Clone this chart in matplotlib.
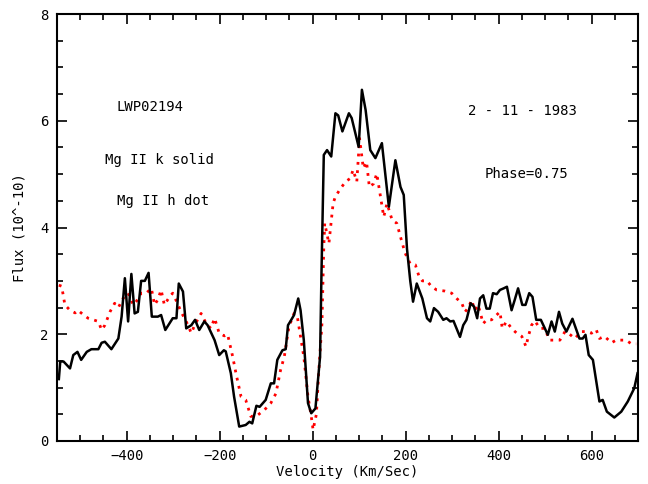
import numpy as np
import matplotlib
matplotlib.use('Agg')
import matplotlib.pyplot as plt
from matplotlib.ticker import MultipleLocator

# Mg II k (solid line)
vel_k = [-546, -543, -536, -522, -515, -506, -498, -486, -476, -461, -454, -447, -433, -418,
         -411, -404, -397, -390, -383, -376, -369, -361, -353, -346, -333, -326, -317, -301,
         -293, -288, -279, -272, -261, -253, -244, -233, -226, -211, -201, -191, -187, -176,
         -169, -158, -144, -136, -130, -121, -114, -101, -90, -83, -76, -65, -58, -53, -48,
         -40, -31, -26, -19, -10, -3, 6, 16, 19, 24, 31, 40, 49, 55, 64, 78, 84, 99, 106,
         114, 124, 135, 149, 164, 178, 189, 196, 203, 210, 216, 224, 236, 246, 253, 261, 270,
         281, 288, 296, 303, 317, 324, 331, 340, 347, 354, 360, 367, 374, 381, 388, 396, 403,
         411, 418, 428, 435, 442, 451, 458, 466, 473, 481, 491, 506, 514, 521, 530, 537, 546,
         559, 574, 581, 587, 594, 603, 617, 624, 633, 649, 664, 678, 692, 699]
flux_k = [1.16, 1.49, 1.49, 1.36, 1.61, 1.67, 1.52, 1.67, 1.72, 1.72, 1.84, 1.86, 1.72, 1.92,
          2.33, 3.05, 2.24, 3.13, 2.39, 2.42, 3.00, 3.00, 3.15, 2.33, 2.33, 2.36, 2.08, 2.30,
          2.30, 2.95, 2.80, 2.11, 2.17, 2.27, 2.08, 2.24, 2.17, 1.89, 1.61, 1.70, 1.68, 1.27,
          0.83, 0.27, 0.30, 0.36, 0.33, 0.66, 0.64, 0.77, 1.08, 1.08, 1.52, 1.70, 1.72, 2.17, 2.24,
          2.36, 2.67, 2.45, 1.89, 0.71, 0.52, 0.61, 1.58, 3.14, 5.36, 5.45, 5.33, 6.14, 6.10, 5.80,
          6.14, 6.05, 5.51, 6.58, 6.20, 5.45, 5.30, 5.58, 4.39, 5.26, 4.76, 4.61, 3.60, 3.00,
          2.61, 2.95, 2.67, 2.30, 2.24, 2.49, 2.42, 2.27, 2.30, 2.24, 2.25, 1.95, 2.17, 2.27,
          2.58, 2.52, 2.30, 2.67, 2.73, 2.48, 2.48, 2.77, 2.75, 2.83, 2.86, 2.89, 2.45, 2.65,
          2.86, 2.55, 2.55, 2.77, 2.70, 2.27, 2.27, 1.99, 2.24, 2.05, 2.42, 2.20, 2.05, 2.29,
          1.92, 1.92, 1.99, 1.61, 1.52, 0.74, 0.77, 0.55, 0.44, 0.55, 0.74, 0.99, 1.27]

# Mg II h (dotted line)
vel_h = [-546, -540, -533, -522, -511, -505, -494, -483, -472, -461, -454, -447, -436, -426,
         -418, -408, -397, -386, -379, -369, -358, -347, -340, -333, -326, -319, -308, -301,
         -293, -283, -272, -261, -254, -240, -229, -219, -211, -201, -190, -183, -172, -165,
         -154, -144, -133, -119, -104, -90, -79, -69, -61, -51, -40, -33, -19, -10, -3, 1, 8,
         13, 20, 24, 26, 35, 38, 44, 49, 60, 71, 81, 87, 95, 98, 101, 109, 116, 122, 131, 138,
         146, 153, 160, 171, 181, 192, 199, 210, 221, 229, 236, 246, 256, 267, 284, 299, 310,
         321, 328, 335, 342, 349, 356, 367, 374, 385, 392, 403, 408, 417, 428, 439, 450, 459,
         464, 471, 478, 489, 499, 510, 521, 532, 543, 553, 564, 578, 589, 600, 610, 617, 628,
         643, 653, 664, 674, 686, 696]
flux_h = [2.92, 2.90, 2.55, 2.45, 2.40, 2.45, 2.37, 2.30, 2.27, 2.24, 2.08, 2.17, 2.42, 2.58,
          2.50, 2.67, 2.77, 2.55, 2.62, 2.77, 2.77, 2.86, 2.55, 2.65, 2.83, 2.55, 2.70, 2.77,
          2.62, 2.42, 2.24, 2.02, 2.17, 2.39, 2.20, 2.11, 2.30, 2.02, 1.97, 2.00, 1.58, 1.27,
          0.83, 0.77, 0.46, 0.48, 0.58, 0.71, 0.89, 1.33, 1.58, 2.14, 2.39, 2.33, 1.58, 0.83,
          0.46, 0.21, 0.50, 1.27, 2.20, 3.64, 4.08, 3.70, 3.95, 4.45, 4.58, 4.73, 4.86, 4.92,
          5.08, 4.86, 5.26, 5.67, 5.11, 5.23, 4.76, 4.82, 5.01, 4.58, 4.20, 4.45, 4.14, 4.08,
          3.73, 3.52, 3.32, 3.30, 3.08, 3.00, 3.00, 2.89, 2.83, 2.81, 2.77, 2.67, 2.58, 2.42,
          2.50, 2.64, 2.45, 2.55, 2.20, 2.27, 2.27, 2.33, 2.42, 2.11, 2.24, 2.11, 2.02, 1.96,
          1.77, 1.96, 2.17, 2.25, 2.11, 2.11, 1.89, 1.89, 1.89, 2.05, 2.00, 1.92, 2.05, 2.05,
          2.02, 2.09, 1.92, 1.96, 1.84, 1.89, 1.89, 1.89, 1.82, 1.82]

font = 'DejaVu Sans Mono'

fig = plt.figure(figsize=(6.48, 4.84), dpi=100)
ax = fig.add_axes([57/648, 1 - 441/484, (638-57)/648, (441-14)/484])

ax.plot(vel_h, flux_h, color='red', linestyle=(0, (1, 2)), linewidth=2)
ax.plot(vel_k, flux_k, color='black', linewidth=1.8)

ax.set_xlim(-550, 700)
ax.set_ylim(0, 8)
ax.xaxis.set_major_locator(MultipleLocator(200))
ax.xaxis.set_minor_locator(MultipleLocator(50))
ax.yaxis.set_major_locator(MultipleLocator(2))
ax.yaxis.set_minor_locator(MultipleLocator(0.5))
ax.tick_params(which='both', direction='in', top=True, right=True, width=1.2)
ax.tick_params(which='major', length=7, labelsize=10, pad=6)
ax.tick_params(which='minor', length=4)
for lab in ax.get_xticklabels() + ax.get_yticklabels():
    lab.set_family(font)
for s in ax.spines.values():
    s.set_linewidth(1.5)

ax.set_xlabel('Velocity (Km/Sec)', family=font, fontsize=10, labelpad=1)
ax.set_ylabel('Flux (10^-10)', family=font, fontsize=10, labelpad=10)

# annotations
ax.text(-350, 6.25, 'LWP02194', family=font, fontsize=10, ha='center', va='center')
ax.text(-330, 5.26, 'Mg II k solid', family=font, fontsize=10, ha='center', va='center')
ax.text(-322, 4.49, 'Mg II h dot', family=font, fontsize=10, ha='center', va='center')
ax.text(451, 6.18, '2 - 11 - 1983', family=font, fontsize=10, ha='center', va='center')
ax.text(460, 5.00, 'Phase=0.75', family=font, fontsize=10, ha='center', va='center')

plt.savefig('out.png', dpi=100)
